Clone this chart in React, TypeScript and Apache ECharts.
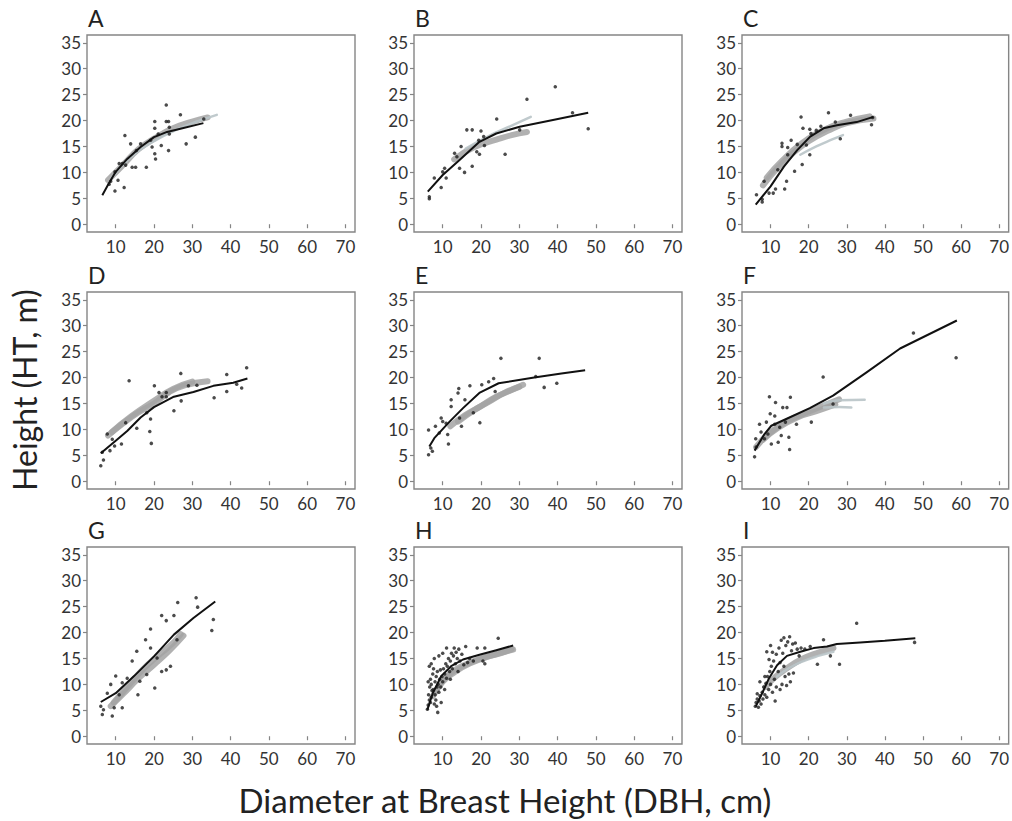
import React, { useEffect, useRef } from "react";
import * as echarts from "echarts";

// ---------- DATA ----------
const panelLetters = ["A", "B", "C", "D", "E", "F", "G", "H", "I"];
const xTicks = [10, 20, 30, 40, 50, 60, 70];
const yTicks = [0, 5, 10, 15, 20, 25, 30, 35];
const xTitle = "Diameter at Breast Height (DBH, cm)";
const yTitle = "Height (HT, m)";

// Panel A
const ptsA = [[9.8,6.4],[12.2,7.1],[10.6,8.5],[9.8,10.1],[10.9,11.7],[11.7,11.7],[12.4,17.1],[13.9,15.5],[12.6,11.4],[14.3,11.0],[15.2,11.0],[15.4,14.2],[16.5,15.5],[18.0,11.0],[19.1,16.2],[19.5,14.9],[20.2,13.6],[20.4,12.6],[20.2,18.5],[20.2,19.8],[21.1,17.4],[21.9,15.2],[23.2,23.0],[23.2,19.8],[23.8,19.8],[23.8,14.2],[24.0,18.7],[24.0,17.4],[26.9,21.1],[28.4,15.5],[30.8,16.8],[33.0,20.3],[8.7,8.3],[8.3,7.7]];
const fitA = [[6.5,5.6],[8,7.6],[10,10.1],[13,12.6],[16.5,14.9],[20,16.8],[23.4,17.8],[26.9,18.4],[32.9,19.5]];
const bandA1 = [[8,8.5],[12,11.5],[16,14.5],[20,16.5],[25,18.5],[30,19.8],[34,20.6]];
const bandA2 = [[9,9],[14,13],[20,16],[26,18.3],[32,20],[36.4,21.1]];

// Panel B
const ptsB = [[6.5,4.9],[6.5,5.3],[7.8,8.9],[9.6,7.1],[10,10.1],[10.9,8.9],[10.5,10.8],[13.1,13.7],[13.7,13.0],[14.4,10.8],[14.8,15.0],[15.7,10.0],[16.3,18.2],[17.7,18.2],[17.7,11.2],[18.9,14.0],[19.6,13.5],[19.4,16.2],[20,18.0],[20.7,16.9],[20.9,15.2],[24.1,20.3],[26.3,13.5],[32,24.1],[39.4,26.5],[43.9,21.5],[48,18.4],[30.1,18.2]];
const fitB = [[6.1,6.3],[10,9.5],[14.4,12.4],[19.6,15.9],[24,17.5],[30.1,18.8],[38.8,20.1],[48,21.5]];
const bandB1 = [[13,12.5],[18,14.8],[24,16.3],[28,17.2],[32,17.8]];
const bandB2 = [[16,14.6],[22,17],[28,19],[33,20.7]];

// Panel C
const ptsC = [[6.3,5.7],[7.8,4.8],[7.8,4.3],[8.3,8.3],[9.6,6.0],[10.7,6.0],[11.3,6.8],[11.9,10.5],[13,15.0],[13,15.6],[13.7,6.8],[14.2,8.3],[14.5,13.4],[14.5,14.8],[15.4,16.2],[16.3,10.2],[17,15.4],[18,20.7],[18.3,11.5],[18.5,18.5],[19.4,15.3],[20.3,18.3],[20.3,13.4],[20.6,17.5],[22,18.1],[23.2,18.9],[25.2,21.5],[28.3,16.5],[27,19.7],[31,21],[36.5,19.2],[36.8,20.6]];
const fitC = [[6.1,3.8],[10,7.3],[13.5,11.1],[17,14.3],[20.4,16.9],[23.9,18.5],[27.4,19.1],[32.6,19.7],[37,20.7]];
const bandC1 = [[8,7.5],[12,11],[16,13.8],[20,16],[25,18],[30,19.5],[37,20.4]];
const bandC2 = [[9,9],[13,12.2],[18,15.5],[24,18.2],[30,19.8],[36,20.8]];
const bandC3 = [[17.8,13.4],[22,15],[26,16.3],[29,17.2]];

// Panel D
const ptsD = [[6.1,3.0],[6.8,4.1],[6.5,5.6],[7.8,9.1],[8.5,5.9],[9.1,8.1],[9.7,6.8],[11.5,7.2],[12.6,11.3],[13.5,19.4],[15.5,10.2],[18.1,13.2],[19.1,12.0],[18.9,9.6],[19.3,7.3],[20.1,18.4],[21.3,17.1],[22.1,16.3],[23.2,17.1],[23.2,16.3],[25.2,13.6],[27.1,15.5],[27,20.8],[29,18.4],[31.2,18.5],[35.7,16.1],[39,17.3],[39,20.6],[41.6,18.7],[42.9,18.0],[44.2,21.9]];
const fitD = [[6.1,5.4],[10,7.8],[13,9.7],[16.5,12.3],[20,14.3],[25.2,16.3],[30.3,17.2],[35.5,18.4],[40.7,19.0],[44.4,19.8]];
const bandD1 = [[8,8.8],[12,11.2],[16,13.3],[20,15],[24,17.2],[28,18.5],[34,19.3]];
const bandD2 = [[9,9.5],[14,12.5],[20,15.5],[25,17.8],[30,19.2]];

// Panel E
const ptsE = [[6.3,9.9],[6.3,5.1],[6.9,6.4],[7.3,5.8],[8.1,10.6],[9.1,9.3],[9.6,12.2],[10,11.5],[10.9,11.2],[11.3,9.0],[11.5,7.2],[12.2,15.7],[12.2,14.4],[14,17],[14.2,17.9],[14.4,12.2],[14.9,10.6],[15.8,15.7],[17.1,18.4],[18,13.2],[19.7,11.3],[20.2,18.6],[22,19.2],[23.3,19.8],[23.7,17.3],[25.2,23.7],[34.3,20.2],[35.2,23.7],[36.5,18.1],[39.8,18.9]];
const fitE = [[6.5,6.7],[7.8,8.3],[11.8,11.5],[15.3,14.1],[19.7,17.1],[24.6,18.9],[33.9,20],[41,20.8],[47.2,21.4]];
const bandE1 = [[12,10.6],[16,12.8],[20,14.5],[24,16.3],[28,17.6],[31,18.6]];
const bandE2 = [[14,11.5],[18,13.6],[22,15.3],[26,17],[30,18.2]];

// Panel F
const ptsF = [[5.8,4.7],[6.2,6.6],[6.1,8.2],[7.1,11.0],[8.4,8.2],[9.7,16.3],[8.9,11.4],[9.9,13.0],[10.2,7.2],[11.3,15.2],[11.1,12.6],[12,7.5],[12.8,8.8],[13.2,14.2],[14.3,14.2],[13.9,11.4],[14.8,8.5],[15,6.1],[15.2,16.2],[16.8,11.0],[20.7,11.4],[23.8,20.1],[26.4,14.9],[47.5,28.6],[58.7,23.8],[7.5,9.5],[9.3,9.1],[11.1,11],[12.4,10.4]];
const fitF = [[5.8,5.9],[8.4,9.1],[10.2,10.7],[14.1,12.0],[20.3,14.1],[26.4,16.5],[35.2,21.0],[44,25.6],[58.9,31.0]];
const bandF1 = [[6.2,6.6],[9,8.8],[13,11],[18,12.8],[23,14.3],[28,15.8]];
const bandF2 = [[8,8],[12,10.3],[17,12.3],[22,13.5],[27,14.8]];
const bandF3 = [[24,15],[28,15.6],[34.7,15.7]];
const bandF4 = [[24,14.2],[28,14.3],[31.2,14.2]];

// Panel G
const ptsG = [[6.1,5.8],[6.5,4.2],[6.8,5.1],[7.8,8.3],[8.7,10.0],[9.1,3.9],[9.6,5.5],[10,11.6],[10.9,8.0],[11.7,10.3],[11.7,5.5],[13,11.2],[14.3,14.5],[15.5,16.4],[15.8,8.0],[16.3,10.6],[17.8,18.6],[18.1,11.9],[19.1,20.7],[19.1,17.0],[20.2,9.3],[20.8,15.1],[22,23.3],[22,12.5],[23.2,22.3],[24.3,13.5],[25.2,23.3],[26.2,25.8],[26,18.6],[31,26.7],[31.4,24.9],[35.5,22.5],[35.1,20.4],[23.2,12.8]];
const fitG = [[6.1,6.6],[10,8.3],[14.8,11.6],[20,15.4],[25.2,19.6],[30.3,22.8],[36,26]];
const bandG1 = [[8.7,5.8],[12,8.2],[16,11.2],[20,13.8],[24,16.5],[27.7,19.4]];
const bandG2 = [[9.5,6.5],[13,9.5],[17,12.8],[21,15.5],[25,18],[27,19.7]];

// Panel H
const ptsH = [[6,5.2],[6.2,6],[6.5,7],[6.3,8],[6.8,6.5],[7,7.5],[7.2,8.8],[6.6,9.5],[6.2,10.5],[6.8,11],[7,10],[7.5,9],[7.8,6.2],[7.4,12],[6.5,13.5],[7,14],[7.6,13],[8,10.5],[8,8],[8.2,7],[8.5,9.5],[8.3,11.5],[8.6,12.5],[8.8,10],[9,8.5],[9.2,11],[9.5,9.5],[9.4,12.8],[9.8,11.5],[10,10.5],[10.2,13],[10.5,12],[10.8,14],[11,11.2],[11.2,13.5],[11.5,15],[11.8,12.5],[12,14.5],[12.3,16],[12.5,13],[12.8,15.5],[13,17],[13.3,14],[13.5,16.2],[13.8,15],[14,12.5],[14.2,16.8],[14.5,14.5],[15,15.8],[15.5,13.8],[16,17.3],[16.5,14.2],[17,15],[18,14.5],[19,17],[20.5,14.5],[21,17],[21,14],[24.5,18.9],[8.7,4.6],[9,15.5],[10,16],[7.8,15],[11,17],[12,11],[9.6,6.5],[8.4,5.8],[10.5,9]];
const fitH = [[6,5.1],[7.4,8.3],[9.6,11.6],[12.2,13.5],[15.3,14.8],[19.6,15.7],[24,16.6],[28.4,17.5]];
const bandH1 = [[7.4,7.7],[10,10.5],[13,12.3],[17,14],[22,15.4],[28.4,16.7]];
const bandH2 = [[8,8.5],[11,11.5],[15,13.5],[20,15],[25,16],[28,16.8]];

// Panel I
const ptsI = [[6,5.8],[6.2,6.5],[6.5,7.2],[6.8,5.6],[7,6.8],[7.2,7.8],[6.5,8.2],[7.5,6.2],[7.8,8.5],[8,7.2],[8.2,9.5],[8.5,8],[8.8,10.2],[9,7.5],[9.2,11.5],[9.5,9],[9.8,12.5],[10,10],[10.2,13.5],[10.5,8.5],[10.8,14.5],[11,11],[11.2,6.8],[9,16.3],[9.6,14.8],[10,17.5],[11.5,15.8],[12,12.5],[12.2,17],[12.5,14.2],[12.8,18.5],[13,10],[13.2,16],[13.5,19],[13.8,11.5],[14,17.5],[14.2,9.8],[14.5,18.2],[14.8,12],[15,19.2],[15.2,10.5],[15.5,16.5],[15.8,17.8],[16,12.2],[16.5,18],[17,16.8],[17.5,15.5],[18,17],[19,16.8],[20.4,17.3],[22.3,13.9],[23.9,18.6],[25.7,15.5],[28.1,13.9],[32.6,21.8],[47.8,18.1],[11.5,9.5],[8.5,11.5],[7.2,10.5],[12.5,9],[13.5,13.5],[10.5,16.2]];
const fitI = [[6.1,5.7],[7.8,8.3],[9.6,11.2],[11.7,13.7],[14.3,15.5],[17.8,16.3],[21.3,17],[24.8,17.3],[27.4,17.8],[33.5,18.1],[40,18.4],[48,18.9]];
const bandI1 = [[8.7,9.5],[11,11.3],[14.3,13.1],[18,14.8],[22,16],[26.5,17]];
const bandI2 = [[11.7,11.5],[15,13.2],[19,14.6],[23,15.6],[26.5,16.3]];

// ---------- LAYOUT ----------
const colLefts = [87, 414, 742];
const rowTops = [35, 292, 547];
const gridW = 268;
const gridH = 197;
const FONT = "Lato, 'Open Sans', sans-serif";

type Panel = { pts: number[][]; fit: number[][]; bands: number[][][]; light: number[][][] };
const panels: Panel[] = [
  { pts: ptsA, fit: fitA, bands: [bandA1], light: [bandA2] },
  { pts: ptsB, fit: fitB, bands: [bandB1], light: [bandB2] },
  { pts: ptsC, fit: fitC, bands: [bandC1, bandC2], light: [bandC3] },
  { pts: ptsD, fit: fitD, bands: [bandD1, bandD2], light: [] },
  { pts: ptsE, fit: fitE, bands: [bandE1, bandE2], light: [] },
  { pts: ptsF, fit: fitF, bands: [bandF1, bandF2], light: [bandF3, bandF4] },
  { pts: ptsG, fit: fitG, bands: [bandG1, bandG2], light: [] },
  { pts: ptsH, fit: fitH, bands: [bandH1, bandH2], light: [] },
  { pts: ptsI, fit: fitI, bands: [bandI1], light: [bandI2] },
];

export default function App() {
  const ref = useRef<HTMLDivElement>(null);
  useEffect(() => {
    if (!ref.current) return;
    const chart = echarts.init(ref.current, null, { renderer: "svg" });
    const grids: any[] = [];
    const xAxes: any[] = [];
    const yAxes: any[] = [];
    const series: any[] = [];
    const graphics: any[] = [];
    panels.forEach((p, i) => {
      const c = i % 3;
      const r = Math.floor(i / 3);
      grids.push({
        left: colLefts[c], top: rowTops[r], width: gridW, height: gridH,
        show: true, borderColor: "#858585", borderWidth: 1.4, backgroundColor: "#ffffff",
      });
      xAxes.push({
        type: "value", gridIndex: i, min: 2.5, max: 72.5,
        splitLine: { show: false },
        axisLine: { show: false },
        axisTick: { show: true, inside: false, length: 4, customValues: xTicks, lineStyle: { color: "#858585", width: 1.2 } },
        axisLabel: { customValues: xTicks, margin: 6, color: "#333333", fontSize: 17, fontFamily: FONT },
      });
      yAxes.push({
        type: "value", gridIndex: i, min: -1.5, max: 36.5,
        splitLine: { show: false },
        axisLine: { show: false },
        axisTick: { show: true, inside: false, length: 4, customValues: yTicks, lineStyle: { color: "#858585", width: 1.2 } },
        axisLabel: { customValues: yTicks, margin: 6, color: "#333333", fontSize: 17, fontFamily: FONT },
      });
      p.bands.forEach((b) => {
        series.push({
          type: "line", xAxisIndex: i, yAxisIndex: i, data: b, smooth: true, showSymbol: false,
          lineStyle: { color: "#a3a3a3", width: 6, opacity: 0.85, cap: "round" }, z: 1,
        });
      });
      p.light.forEach((b) => {
        series.push({
          type: "line", xAxisIndex: i, yAxisIndex: i, data: b, smooth: true, showSymbol: false,
          lineStyle: { color: "#b9c4c8", width: 2.5, opacity: 0.9, cap: "round" }, z: 1,
        });
      });
      series.push({
        type: "scatter", xAxisIndex: i, yAxisIndex: i, data: p.pts, symbolSize: 3.5,
        itemStyle: { color: "#1e1e1e" }, z: 3,
      });
      series.push({
        type: "line", xAxisIndex: i, yAxisIndex: i, data: p.fit, smooth: false, showSymbol: false,
        lineStyle: { color: "#111111", width: 2, join: "round" }, z: 4,
      });
      graphics.push({
        type: "text", left: colLefts[c] + 1, top: rowTops[r] - 29,
        style: { text: panelLetters[i], fontSize: 23, fontFamily: FONT, fill: "#222222" },
      });
    });
    graphics.push({
      type: "text", x: 24, y: 390, rotation: Math.PI / 2,
      style: { text: yTitle, fontSize: 32, fontFamily: FONT, fill: "#222222", align: "center", verticalAlign: "middle" },
    });
    graphics.push({
      type: "text", x: 505, y: 800,
      style: { text: xTitle, fontSize: 33, fontFamily: FONT, fill: "#222222", align: "center", verticalAlign: "middle" },
    });
    chart.setOption({
      animation: false,
      backgroundColor: "#ffffff",
      grid: grids,
      xAxis: xAxes,
      yAxis: yAxes,
      series,
      graphic: graphics,
    });
    return () => chart.dispose();
  }, []);
  return <div ref={ref} style={{ position: "fixed", left: 0, top: 0, width: 1012, height: 821 }} />;
}
